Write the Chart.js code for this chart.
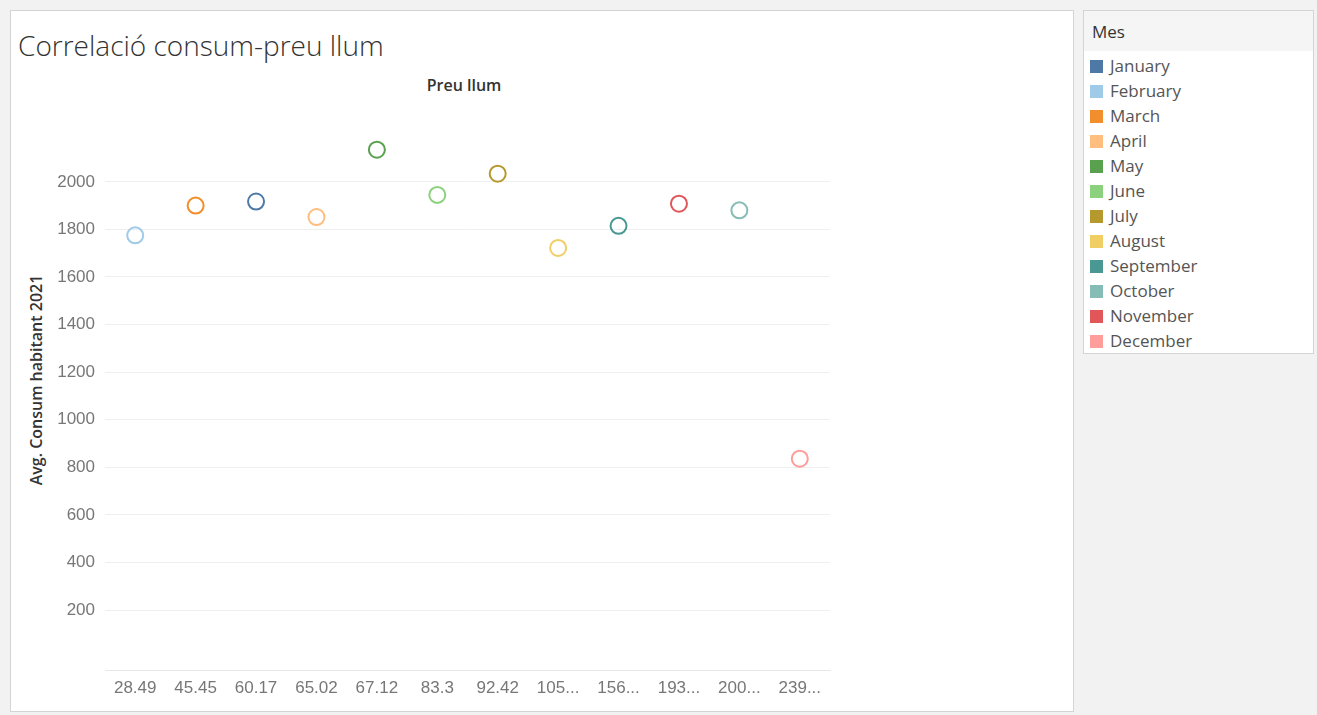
<!DOCTYPE html>
<html><head><meta charset="utf-8">
<script src="https://cdn.jsdelivr.net/npm/chart.js@4"></script>
<style>
body{margin:0;background:#f2f2f2;font-family:"Segoe UI","Open Sans",sans-serif;width:1317px;height:715px;overflow:hidden;position:relative}
#panel{position:absolute;left:10px;top:10px;width:1062px;height:700px;background:#fff;border:1px solid #d4d4d4}
#title{position:absolute;left:18px;top:26px;font-size:28px;font-weight:300;color:#333}
#xtitle{position:absolute;left:105px;width:718px;top:74px;text-align:center;font-size:16px;font-weight:600;color:#333}
#ytitle{position:absolute;left:36px;top:380px;transform:translate(-50%,-50%) rotate(-90deg);font-size:16px;font-weight:600;color:#333;white-space:nowrap}
#wrap{position:absolute;left:10px;top:95px;width:830px;height:615px}
#legend{position:absolute;left:1083px;top:10px;width:229px;height:342px;background:#fff;border:1px solid #d4d4d4}
#legend .h{background:#f5f5f5;height:40px;line-height:42px;padding-left:8px;font-size:17px;color:#333}
#legend .i{height:25px;line-height:25px;font-size:17px;color:#555;padding-left:6px}
#legend .i span{display:inline-block;width:13px;height:13px;margin-right:7px;vertical-align:-1px}
</style></head><body>
<div id="panel"></div>
<div id="title">Correlació consum-preu llum</div>
<div id="xtitle">Preu llum</div>
<div id="ytitle">Avg. Consum habitant 2021</div>
<div id="wrap"><canvas id="c"></canvas></div>
<div id="legend"><div class="h">Mes</div><div id="items" style="padding-top:2px"></div></div>
<script>
const priceLabels = ['28.49','45.45','60.17','65.02','67.12','83.3','92.42','105...','156...','193...','200...','239...'];
const pointMonth = ['February','March','January','April','May','June','July','August','September','November','October','December'];
const consum = [1775, 1900, 1917, 1852, 2135, 1945, 2034, 1722, 1815, 1908, 1880, 836];
const months = ['January','February','March','April','May','June','July','August','September','October','November','December'];
const monthColors = ['#4e79a7','#a0cbe8','#f28e2b','#ffbe7d','#59a14f','#8cd17d','#b6992d','#f1ce63','#499894','#86bcb6','#e15759','#ff9d9a'];

const items = document.getElementById('items');
months.forEach((m, i) => {
  items.innerHTML += '<div class="i"><span style="background:' + monthColors[i] + '"></span>' + m + '</div>';
});
const pointColors = pointMonth.map(m => monthColors[months.indexOf(m)]);

new Chart(document.getElementById('c'), {
  type: 'line',
  data: {
    labels: priceLabels,
    datasets: [{
      data: consum,
      showLine: false,
      pointRadius: 8,
      pointHoverRadius: 8,
      pointBorderWidth: 2,
      pointBackgroundColor: 'rgba(255,255,255,0)',
      pointBorderColor: pointColors
    }]
  },
  options: {
    responsive: true,
    maintainAspectRatio: false,
    animation: false,
    layout: {padding: {top: 0, right: 7}},
    plugins: {legend: {display: false}, tooltip: {enabled: false}},
    scales: {
      x: {
        offset: true,
        grid: {display: false, drawTicks: false},
        border: {color: '#e6e6e6'},
        ticks: {color: '#777', font: {size: 17}, padding: 8, maxRotation: 0, autoSkip: false},
        afterFit: s => { s.height = 40; }
      },
      y: {
        min: -52, max: 2280,
        grid: {color: '#efefef', drawTicks: false},
        border: {display: false},
        ticks: {stepSize: 200, color: '#777', font: {size: 17}, padding: 10,
          callback: v => (v >= 0 && v % 200 === 0) ? v : null},
        afterFit: s => { s.width = 95; }
      }
    }
  }
});
</script>
</body></html>
